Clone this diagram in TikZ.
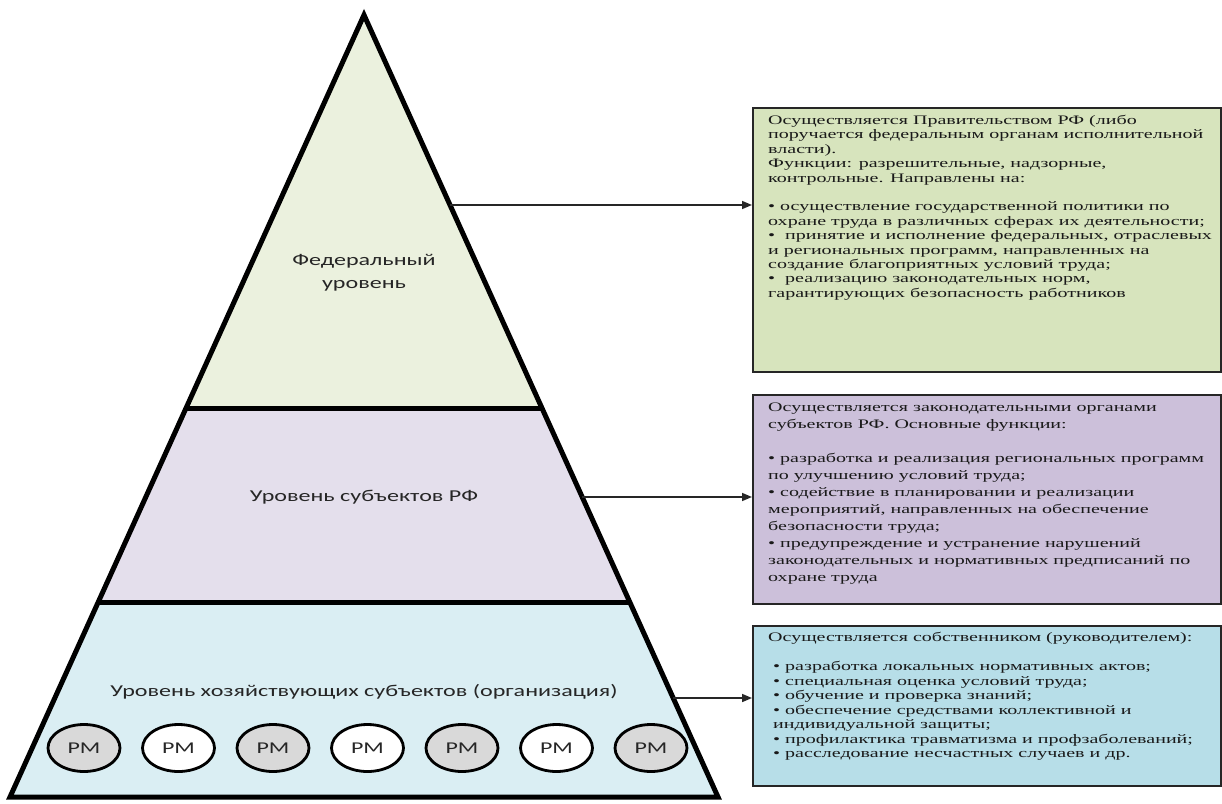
\documentclass[tikz,border=0pt]{standalone}
\usepackage{fontspec}
\setmainfont{Liberation Serif}
\newfontfamily\boxfont[FakeStretch=1.54]{Liberation Serif}
\newfontfamily\lblfont[FakeStretch=1.45]{Carlito}
\usetikzlibrary{arrows.meta,shapes.geometric}
\definecolor{fedfill}{HTML}{EBF1DE}
\definecolor{subfill}{HTML}{E4DFEC}
\definecolor{orgfill}{HTML}{DAEEF3}
\definecolor{gboxfill}{HTML}{D7E4BD}
\definecolor{pboxfill}{HTML}{CCC0DA}
\definecolor{bboxfill}{HTML}{B7DEE8}
\definecolor{pmgray}{HTML}{D9D9D9}
\tikzset{
  pyr/.style={line width=5pt, line join=miter},
  infobox/.style={draw=black!85, line width=2.2pt, rectangle, anchor=north west, inner sep=0pt},
  boxtext/.style={anchor=north west, align=left, inner sep=0pt, text=black!90},
  lvl/.style={font=\lblfont\fontsize{16.6}{23}\selectfont, text=black!85, align=center, inner sep=0pt},
  pm/.style={ellipse, draw=black, line width=2.8pt, minimum width=72pt, minimum height=47pt, inner sep=0pt, text=black!85, font=\lblfont\fontsize{16.5}{16.5}\selectfont},
  link/.style={draw=black!85, line width=1.6pt, -{Triangle[length=10pt,width=8pt]}}
}
\begin{document}
\begin{tikzpicture}[x=1pt,y=-1pt]
\useasboundingbox (0,0) rectangle (1222,803);
\begin{scope}
\clip (0,0) rectangle (1222,803);
% pyramid fills
\fill[fedfill] (364,15) -- (186.1,408) -- (541.9,408) -- cycle;
\fill[subfill] (186.1,408) -- (98.3,602) -- (629.7,602) -- (541.9,408) -- cycle;
\fill[orgfill] (98.3,602) -- (10,797) -- (718,797) -- (629.7,602) -- cycle;
\draw[pyr] (186.1,408) -- (541.9,408);
\draw[pyr] (98.3,602) -- (629.7,602);
\draw[pyr] (364,15) -- (10,797) -- (718,797) -- cycle;

% level labels
\node[lvl] (fedlbl) at (364,273) {Федеральный\\уровень};
\node[lvl] (sublbl) at (364,497) {Уровень субъектов РФ};
\node[lvl] (orglbl) at (364,692) {Уровень хозяйствующих субъектов (организация)};

% workplaces
\foreach \i/\c in {0/pmgray,1/white,2/pmgray,3/white,4/pmgray,5/white,6/pmgray}
  \node[pm, fill=\c] (pm\i) at ({84+94.5*\i},748) {РМ};

% info boxes
\node[infobox, fill=gboxfill, minimum width=468pt, minimum height=264pt] (gbox) at (752,107) {};
\node[infobox, fill=pboxfill, minimum width=468pt, minimum height=209pt] (pbox) at (752,394) {};
\node[infobox, fill=bboxfill, minimum width=468pt, minimum height=160pt] (bbox) at (752,625) {};

\node[boxtext, font=\boxfont\fontsize{13}{14.4}\selectfont] (gtext) at (768,115) {Осуществляется Правительством РФ (либо\\
поручается федеральным органам исполнительной\\
власти).\\
Функции: разрешительные, надзорные,\\
контрольные. Направлены на:\\[14.4pt]
• осуществление государственной политики по\\
охране труда в различных сферах их деятельности;\\
•\ \ принятие и исполнение федеральных, отраслевых\\
и региональных программ, направленных на\\
создание благоприятных условий труда;\\
•\ \ реализацию законодательных норм,\\
гарантирующих безопасность работников};

\node[boxtext, font=\boxfont\fontsize{13}{17}\selectfont] (ptext) at (768,403) {Осуществляется законодательными органами\\
субъектов РФ. Основные функции:\\[17pt]
• разработка и реализация региональных программ\\
по улучшению условий труда;\\
• содействие в планировании и реализации\\
мероприятий, направленных на обеспечение\\
безопасности труда;\\
• предупреждение и устранение нарушений\\
законодательных и нормативных предписаний по\\
охране труда};

\node[boxtext, font=\boxfont\fontsize{13}{14.5}\selectfont] (btext) at (768,632) {Осуществляется собственником (руководителем):\\[14.5pt]
\hspace{5pt}• разработка локальных нормативных актов;\\
\hspace{5pt}• специальная оценка условий труда;\\
\hspace{5pt}• обучение и проверка знаний;\\
\hspace{5pt}• обеспечение средствами коллективной и\\
\hspace{5pt}индивидуальной защиты;\\
\hspace{5pt}• профилактика травматизма и профзаболеваний;\\
\hspace{5pt}• расследование несчастных случаев и др.};

% connectors
\coordinate (fedR) at (450,205);
\coordinate (subR) at (582,497);
\coordinate (orgR) at (673,698);
\draw[link] (fedR) -- (fedR -| gbox.west);
\draw[link] (subR) -- (subR -| pbox.west);
\draw[link] (orgR) -- (orgR -| bbox.west);
\end{scope}
\end{tikzpicture}
\end{document}
